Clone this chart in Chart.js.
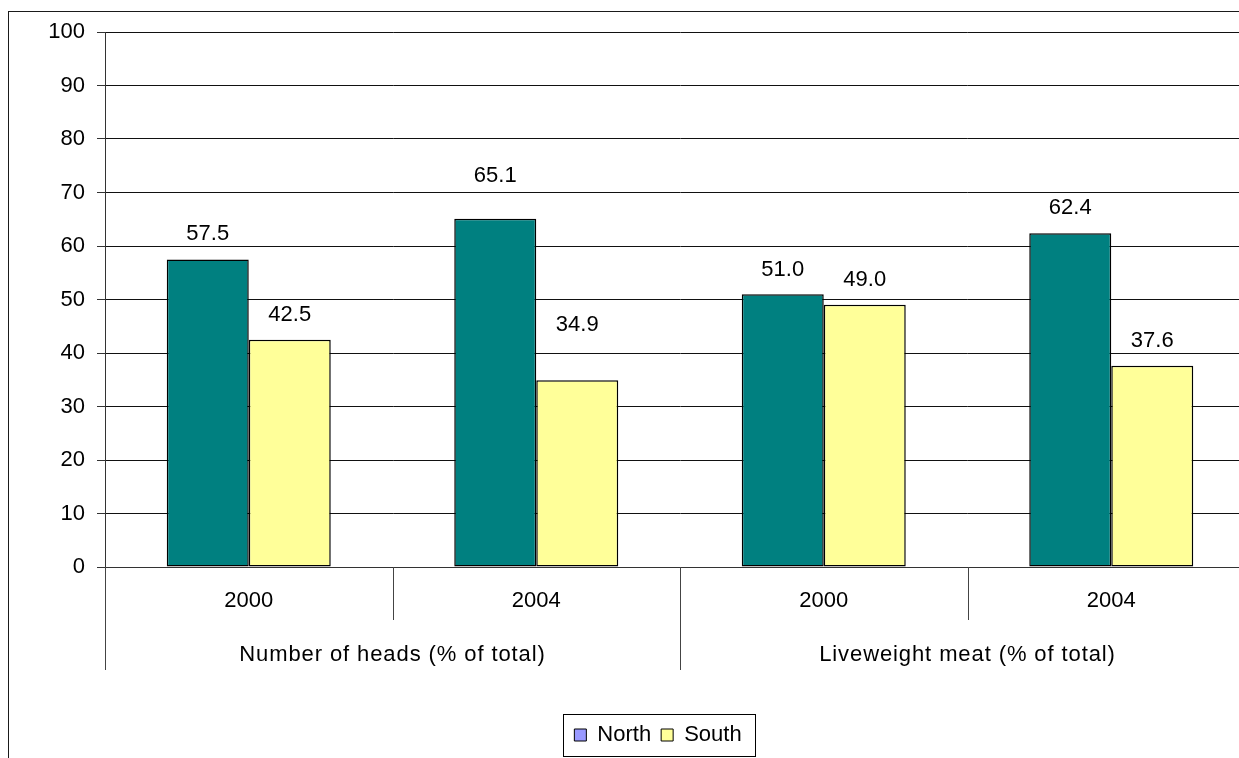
<!DOCTYPE html>
<html>
<head>
<meta charset="utf-8">
<title>North / South shares</title>
<script src="https://cdn.jsdelivr.net/npm/chart.js@4/dist/chart.umd.min.js"></script>
<style>
  html, body { margin: 0; padding: 0; background: #fff; overflow: hidden; width: 1239px; height: 758px; }
  #wrap { position: absolute; left: 0; top: 0; }
</style>
</head>
<body>
<div id="wrap"><canvas id="c" width="1290" height="770"></canvas></div>
<script>
// ---- data ----
const categories = ['2000', '2004', '2000', '2004'];
const groups = ['Number of heads (% of total)', 'Liveweight meat (% of total)'];
const seriesNames = ['North', 'South'];
const northValues = [57.5, 65.1, 51.0, 62.4];
const southValues = [42.5, 34.9, 49.0, 37.6];
const yMin = 0, yMax = 100, yStep = 10;

const FONT = "'Liberation Sans', Arial, Helvetica, sans-serif";
Chart.defaults.font.family = FONT;
Chart.defaults.font.size = 22;
Chart.defaults.color = '#000';

// white page with the outer chart frame
const frame = {
  id: 'frame',
  beforeDraw(chart) {
    const { ctx, width, height } = chart;
    ctx.save();
    ctx.fillStyle = '#fff';
    ctx.fillRect(0, 0, width, height);
    ctx.strokeStyle = '#1a1a1a';
    ctx.lineWidth = 1;
    ctx.strokeRect(8.5, 11.5, width + 20, height + 20);
    ctx.restore();
  }
};

// two-level category axis: dividers and group captions
const categoryGroups = {
  id: 'categoryGroups',
  afterDraw(chart, args, opts) {
    const x = chart.scales.x, area = chart.chartArea, ctx = chart.ctx;
    const n = categories.length, per = n / groups.length;
    const step = x.getPixelForValue(1) - x.getPixelForValue(0);
    ctx.save();
    ctx.strokeStyle = opts.lineColor;
    ctx.lineWidth = 1;
    for (let i = 0; i <= n; i++) {
      const edge = i < n ? x.getPixelForValue(i) - step / 2 : x.getPixelForValue(n - 1) + step / 2;
      const px = Math.round(edge) + 0.5;
      const len = (i % per === 0) ? opts.outerLength : opts.innerLength;
      ctx.beginPath();
      ctx.moveTo(px, area.bottom);
      ctx.lineTo(px, area.bottom + len);
      ctx.stroke();
    }
    ctx.font = `22px ${FONT}`;
    ctx.letterSpacing = opts.letterSpacing;
    ctx.fillStyle = '#000';
    ctx.textAlign = 'center';
    ctx.textBaseline = 'middle';
    groups.forEach((g, gi) => {
      const a = x.getPixelForValue(gi * per);
      const b = x.getPixelForValue(gi * per + per - 1);
      ctx.fillText(g, (a + b) / 2, area.bottom + opts.labelOffset);
    });
    ctx.restore();
  }
};

// value captions above each bar
const valueLabels = {
  id: 'valueLabels',
  afterDatasetsDraw(chart, args, opts) {
    const ctx = chart.ctx;
    ctx.save();
    ctx.font = `22px ${FONT}`;
    ctx.fillStyle = '#000';
    ctx.textAlign = 'center';
    ctx.textBaseline = 'middle';
    chart.data.datasets.forEach((ds, di) => {
      const meta = chart.getDatasetMeta(di);
      meta.data.forEach((bar, i) => {
        const extra = (opts.extraLift[di] || [])[i] || 0;
        ctx.fillText(ds.data[i].toFixed(1), bar.x, bar.y - opts.gap - extra);
      });
    });
    ctx.restore();
  }
};

// box around the legend
const legendFrame = {
  id: 'legendFrame',
  afterDraw(chart, args, opts) {
    const lg = chart.legend;
    if (!lg || !lg.legendHitBoxes || !lg.legendHitBoxes.length) return;
    const hb = lg.legendHitBoxes;
    const l = Math.min(...hb.map(h => h.left)) - opts.padLeft;
    const r = Math.max(...hb.map(h => h.left + h.width)) + opts.padRight;
    const ctx = chart.ctx;
    ctx.save();
    ctx.strokeStyle = '#000';
    ctx.lineWidth = 1;
    ctx.strokeRect(Math.round(l) + 0.5, Math.round(lg.top) + 0.5, Math.round(r - l), Math.round(lg.bottom - lg.top));
    ctx.restore();
  }
};

const legendSwatches = ['#9999FF', '#FFFF99'];

new Chart(document.getElementById('c'), {
  type: 'bar',
  data: {
    labels: categories,
    datasets: [
      { label: seriesNames[0], data: northValues, backgroundColor: '#008080', borderColor: '#000', borderWidth: 1.5, borderSkipped: false },
      { label: seriesNames[1], data: southValues, backgroundColor: '#FFFF99', borderColor: '#000', borderWidth: 1.5, borderSkipped: false }
    ]
  },
  options: {
    responsive: false,
    animation: false,
    devicePixelRatio: 1,
    layout: { padding: { left: 40, top: 32, right: 14, bottom: 14 } },
    datasets: { bar: { categoryPercentage: 0.5704, barPercentage: 1 } },
    scales: {
      x: {
        type: 'category',
        offset: true,
        grid: { display: false, drawTicks: false },
        border: { display: true, color: '#333', width: 1 },
        ticks: { padding: 21, color: '#000', font: { size: 22 }, maxRotation: 0, autoSkip: false },
        afterFit(s) { s.height = 147; }
      },
      y: {
        min: yMin, max: yMax,
        grid: { color: '#111', lineWidth: 1, drawTicks: true, tickLength: 8, tickColor: '#333' },
        border: { display: true, color: '#333', width: 1 },
        ticks: { stepSize: yStep, padding: 12, color: '#000', font: { size: 22 } },
        afterFit(s) { s.width = 65; }
      },
      // empty spacer on the right edge of the plot
      spacer: {
        type: 'linear',
        position: 'right',
        display: true,
        grid: { display: false, drawTicks: false },
        border: { display: false },
        ticks: { display: false },
        afterFit(s) { s.width = 21; }
      }
    },
    plugins: {
      tooltip: { enabled: false },
      legend: {
        position: 'bottom',
        labels: {
          boxWidth: 12, boxHeight: 12, padding: 10, color: '#000', font: { size: 22 },
          generateLabels(chart) {
            return chart.data.datasets.map((ds, i) => ({
              text: ds.label, fillStyle: legendSwatches[i], strokeStyle: '#000',
              lineWidth: 1, hidden: false, datasetIndex: i, fontColor: '#000'
            }));
          }
        }
      },
      categoryGroups: { lineColor: '#444', outerLength: 103, innerLength: 53, labelOffset: 88, letterSpacing: '0.9px' },
      valueLabels: { gap: 24.5, extraLift: [[1, 18, 0, 1], [0, 31, 0, 0]] },
      legendFrame: { padLeft: 11, padRight: 14 }
    }
  },
  plugins: [frame, categoryGroups, valueLabels, legendFrame]
});
</script>
</body>
</html>
